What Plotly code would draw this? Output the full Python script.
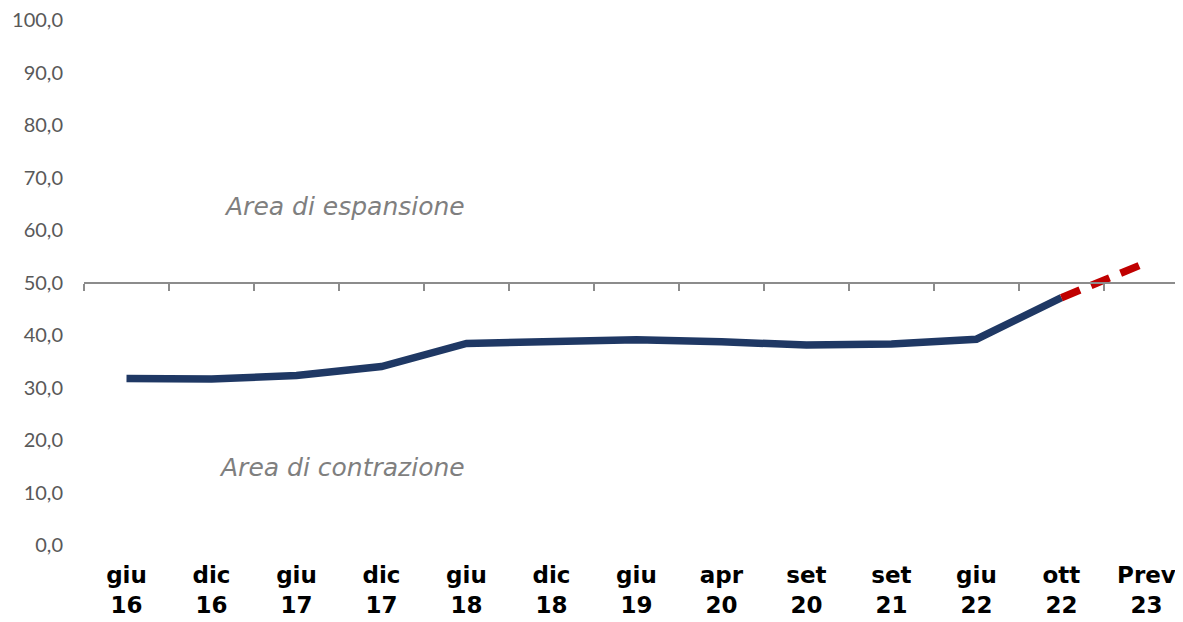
import plotly.graph_objects as go

# Categories and values
periodi = ['giu<br>16', 'dic<br>16', 'giu<br>17', 'dic<br>17', 'giu<br>18', 'dic<br>18', 'giu<br>19',
           'apr<br>20', 'set<br>20', 'set<br>21', 'giu<br>22', 'ott<br>22', 'Prev<br>23']
storico = [31.7, 31.6, 32.3, 34.0, 38.4, 38.6, 39.1, 38.7, 38.1, 38.3, 39.2, 47.1, None]
previsione = [None, None, None, None, None, None, None, None, None, None, None, 47.1, 53.8]
y_ticks = [0, 10, 20, 30, 40, 50, 60, 70, 80, 90, 100]

fig = go.Figure()

fig.add_trace(go.Scatter(x = periodi,
                         y = storico,
                         mode = 'lines',
                         line = dict(width = 7.5, color = '#1F3864'),
                         showlegend = False))

fig.add_trace(go.Scatter(x = periodi,
                         y = previsione,
                         mode = 'lines',
                         line = dict(width = 7.5, color = '#C00000', dash = '20px,12px'),
                         showlegend = False))

# invisible trace only to carry the axis line at 50
fig.add_trace(go.Scatter(x = periodi,
                         y = [50]*len(periodi),
                         xaxis = 'x2',
                         mode = 'lines',
                         line = dict(width = 0),
                         hoverinfo = 'skip',
                         showlegend = False))

fig.update_xaxes(range = [-0.5, 12.43], showgrid = False, showline = False, ticks = '',
                 ticklabelstandoff = 14, ticklabeloverflow = 'allow', automargin = False,
                 tickfont = dict(family = 'DejaVu Sans', size = 23, color = 'black'))

fig.update_layout(xaxis = dict(tickvals = periodi, ticktext = ['<b>' + p + '</b>' for p in periodi]),
                  xaxis2 = dict(overlaying = 'x', anchor = 'free', position = 0.5,
                                matches = 'x', type = 'category',
                                showline = True, linecolor = '#8C8C8C', linewidth = 2,
                                ticks = 'outside', tickson = 'boundaries', ticklen = 7,
                                tickwidth = 2, tickcolor = '#8C8C8C',
                                showticklabels = False, showgrid = False))

fig.update_yaxes(range = [0, 100], tickvals = y_ticks, tickformat = '.1f',
                 showgrid = False, showline = False, zeroline = False,
                 ticklabelstandoff = 20, ticklabeloverflow = 'allow', automargin = False,
                 tickfont = dict(family = 'Lato', size = 20, color = '#595959'))

fig.add_annotation(x = 2.57, y = 64.4, text = '<i>Area di espansione</i>', showarrow = False,
                   font = dict(family = 'DejaVu Sans', size = 25, color = '#7F7F7F'))
fig.add_annotation(x = 2.53, y = 14.7, text = '<i>Area di contrazione</i>', showarrow = False,
                   font = dict(family = 'DejaVu Sans', size = 25, color = '#7F7F7F'))

# page body adds 8px around the figure, so the figure is a bit smaller than the window
fig.update_layout(width = 1175,
                  height = 614,
                  margin = dict(l = 76, r = 0, t = 12, b = 77),
                  separators = ',.',
                  plot_bgcolor = 'white',
                  paper_bgcolor = 'white',
                  font = dict(family = 'Lato'))

fig.write_html('out.html')
